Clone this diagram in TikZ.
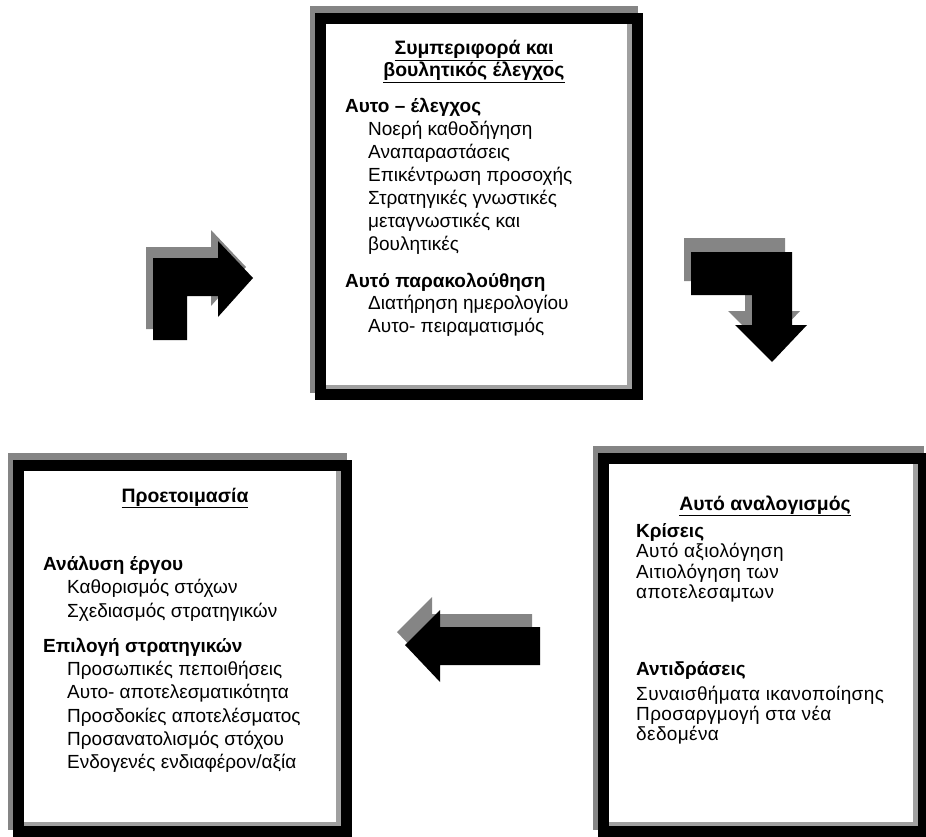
\documentclass[tikz,border=0pt]{standalone}
\usepackage{fontspec}
\setmainfont{Liberation Sans}
\definecolor{shadowgray}{HTML}{858585}
\definecolor{innergray}{HTML}{A0A0A0}
\newcommand\bevelbox[4]{%
  \fill[shadowgray] ({#1-5},{#2-7}) rectangle ({#3-5},{#4-7});
  \fill[black] (#1,#2) rectangle (#3,#4);
  \fill[innergray] ({#1+11},{#2+11}) rectangle ({#3-11},{#4-11});
  \fill[white] ({#1+11},{#2+11}) rectangle ({#3-16},{#4-15});
}
\tikzset{
  txt/.style={anchor=base west, inner sep=0pt, font=\fontsize{19}{23}\selectfont},
  hdr/.style={txt, font=\fontsize{19}{23}\selectfont\bfseries},
  ttl/.style={anchor=base, inner sep=0pt, font=\fontsize{19.4}{23}\selectfont\bfseries},
  rtxt/.style={txt, font=\fontsize{19}{20}\selectfont\addfontfeature{LetterSpace=2}},
  arrowshadow/.style={fill=shadowgray},
  arrowbody/.style={fill=black}
}
\begin{document}
\begin{tikzpicture}[x=1pt,y=-1pt]
\useasboundingbox (0,0) rectangle (926,837);
\clip (0,0) rectangle (926,837);
% frames
\bevelbox{315}{13}{643}{400}
\bevelbox{13}{460}{352}{837}
\bevelbox{598}{453}{929}{837}
% top box text
\node[ttl] (t1) at (474,55) {\underline{Συμπεριφορά και}};
\node[ttl] (t2) at (474,77) {\underline{βουλητικός έλεγχος}};
\node[hdr] (h1) at (345,113) {Αυτο – έλεγχος};
\node[txt] (a1) at (368,136) {Νοερή καθοδήγηση};
\node[txt] (a2) at (368,159) {Αναπαραστάσεις};
\node[txt] (a3) at (368,182) {Επικέντρωση προσοχής};
\node[txt] (a4) at (368,205) {Στρατηγικές γνωστικές};
\node[txt] (a5) at (368,228) {μεταγνωστικές και};
\node[txt] (a6) at (368,251) {βουλητικές};
\node[hdr] (h2) at (345,287) {Αυτό παρακολούθηση};
\node[txt] (b1) at (368,309) {Διατήρηση ημερολογίου};
\node[txt] (b2) at (368,332) {Αυτο- πειραματισμός};
% bottom-left text
\node[ttl] (t3) at (185,502) {\underline{Προετοιμασία}};
\node[hdr] (h3) at (43,570) {Ανάλυση έργου};
\node[txt] (c1) at (67,593) {Καθορισμός στόχων};
\node[txt] (c2) at (67,617) {Σχεδιασμός στρατηγικών};
\node[hdr] (h4) at (43,652) {Επιλογή στρατηγικών};
\node[txt] (d1) at (67,675) {Προσωπικές πεποιθήσεις};
\node[txt] (d2) at (67,698) {Αυτο- αποτελεσματικότητα};
\node[txt] (d3) at (67,722) {Προσδοκίες αποτελέσματος};
\node[txt] (d4) at (67,745) {Προσανατολισμός στόχου};
\node[txt] (d5) at (67,768) {Ενδογενές ενδιαφέρον/αξία};
% bottom-right text
\node[ttl] (t4) at (765,510) {\underline{Αυτό αναλογισμός}};
\node[hdr] (h5) at (636,537) {Κρίσεις};
\node[rtxt] (e1) at (636,557) {Αυτό αξιολόγηση};
\node[rtxt] (e2) at (636,578) {Αιτιολόγηση των};
\node[rtxt] (e3) at (636,598) {αποτελεσαμτων};
\node[hdr] (h6) at (636,675) {Αντιδράσεις};
\node[rtxt] (f1) at (636,700) {Συναισθήματα ικανοποίησης};
\node[rtxt] (f2) at (636,720) {Προσαργμογή στα νέα};
\node[rtxt] (f3) at (636,740) {δεδομένα};
% top-left arrow
\begin{scope}[shift={(-7,-11)}]
\fill[arrowshadow] (153,340) -- (153,258) -- (218,258) -- (218,241) -- (253,278) -- (218,317) -- (218,296) -- (187,296) -- (187,340) -- cycle;
\end{scope}
\fill[arrowbody] (153,340) -- (153,258) -- (218,258) -- (218,241) -- (253,278) -- (218,317) -- (218,296) -- (187,296) -- (187,340) -- cycle;
% right arrow
\begin{scope}[shift={(-7,-14)}]
\fill[arrowshadow] (691,252) -- (792,252) -- (792,325) -- (807,325) -- (772,362) -- (735,325) -- (752,325) -- (752,295) -- (691,295) -- cycle;
\end{scope}
\fill[arrowbody] (691,252) -- (792,252) -- (792,325) -- (807,325) -- (772,362) -- (735,325) -- (752,325) -- (752,295) -- (691,295) -- cycle;
% bottom arrow
\begin{scope}[shift={(-8,-13)}]
\fill[arrowshadow] (540,627) -- (440,627) -- (440,610) -- (405,645) -- (440,682) -- (440,665) -- (540,665) -- cycle;
\end{scope}
\fill[arrowbody] (540,627) -- (440,627) -- (440,610) -- (405,645) -- (440,682) -- (440,665) -- (540,665) -- cycle;
\end{tikzpicture}
\end{document}
